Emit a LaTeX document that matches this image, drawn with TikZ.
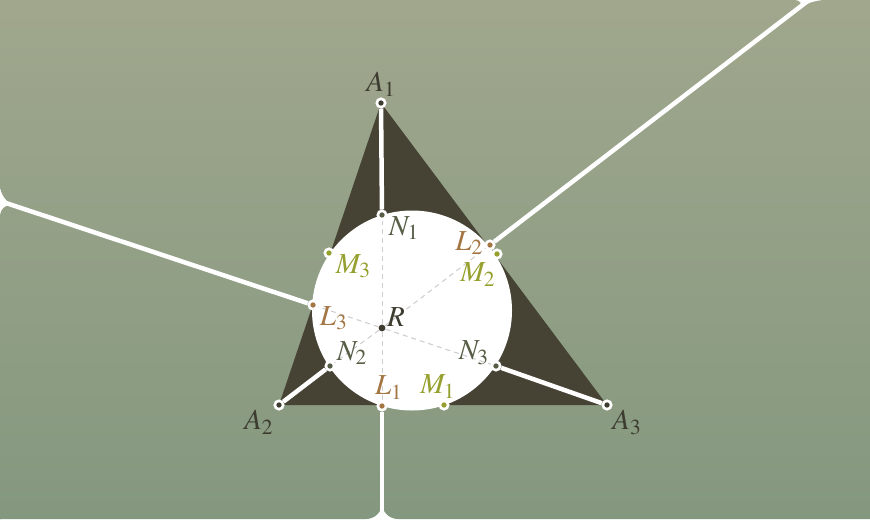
\documentclass[tikz,border=0pt]{standalone}
\usepackage{mathptmx}
\usetikzlibrary{backgrounds}

\definecolor{meadowtop}{RGB}{160,167,141}
\definecolor{meadowlow}{RGB}{132,152,127}
\definecolor{soil}{RGB}{71,67,52}
\definecolor{vtxcol}{RGB}{62,60,48}
\definecolor{ncol}{RGB}{86,94,70}
\definecolor{lcol}{RGB}{163,118,68}
\definecolor{mcol}{RGB}{150,160,46}
\definecolor{guidecol}{RGB}{205,205,205}

\begin{document}
\begin{tikzpicture}[x=0.5pt, y=-0.5pt,
        pt/.style={circle, draw=white, line width=1.3pt, minimum size=4.2pt, inner sep=0pt},
        vtx/.style={pt, fill=vtxcol},
        npt/.style={pt, fill=ncol},
        lpt/.style={pt, fill=lcol},
        mpt/.style={pt, fill=mcol},
        street/.style={draw=white, line width=2.25pt},
        guide/.style={draw=guidecol, line width=0.5pt, dash pattern=on 2.5pt off 2pt},
        disc/.style={circle, fill=white, minimum size=100pt, inner sep=0pt},
        every label/.style={font=\fontsize{14.5}{17}\selectfont, inner sep=0.5pt}
    ]
        \useasboundingbox (0,0) rectangle (870,519);

        \node[vtx, label={[text=vtxcol]90:$A_1$}]   (A1) at (381,103) {};
        \node[vtx, label={[text=vtxcol]225:$A_2$}]  (A2) at (279,405) {};
        \node[vtx, label={[text=vtxcol]-45:$A_3$}]  (A3) at (607,405) {};
        \node[circle, fill=vtxcol, minimum size=3.4pt, inner sep=0pt,
              label={[text=vtxcol, anchor=south west]0:$R$}] (R) at (382,328) {};

        \node[npt, label={[text=ncol, anchor=north west]0:$N_1$}]  (N1) at (382,215) {};
        \node[npt, label={[text=ncol, anchor=south west]0:$N_2$}]  (N2) at (330,366) {};
        \node[npt, label={[text=ncol, anchor=south east]180:$N_3$}] (N3) at (496,366) {};

        \node[lpt, label={[text=lcol, xshift=3.5pt]90:$L_1$}]            (L1) at (382,406) {};
        \node[lpt, label={[text=lcol, anchor=east, yshift=1pt]180:$L_2$}] (L2) at (490,245) {};
        \node[lpt, label={[text=lcol, anchor=north west]0:$L_3$}]        (L3) at (313,305) {};

        \node[mpt, label={[text=mcol, xshift=-3pt]90:$M_1$}]                      (M1) at (444,405) {};
        \node[mpt, label={[text=mcol, anchor=north east, yshift=-1pt]-90:$M_2$}]  (M2) at (497,254) {};
        \node[mpt, label={[text=mcol, anchor=north west]0:$M_3$}]                 (M3) at (329,253) {};

        \coordinate (B1) at (382,519);
        \coordinate (B2) at (809,0);
        \coordinate (B3) at (0,201);

        \begin{scope}[on background layer]
            \fill[white] (0,0) rectangle (870,519);
            \begin{scope}
                \clip[rounded corners=8pt]
                    (R.center) -- (B2) -- (-30,0) -- (0,-30) -- (B3) -- cycle
                    (R.center) -- (B3) -- (0,549) -- (-30,519) -- (B1) -- cycle
                    (R.center) -- (B1) -- (900,519) -- (900,0) -- (B2) -- cycle;
                \shade[top color=meadowtop, bottom color=meadowlow] (0,0) rectangle (870,519);
            \end{scope}
            \fill[soil] (A1.center) -- (A2.center) -- (A3.center) -- cycle;
            \node[disc] (plaza) at (412,310.5) {};
            \draw[street] (A1) -- (N1);
            \draw[street] (A2) -- (N2);
            \draw[street] (A3) -- (N3);
            \draw[street] (L1) -- (B1);
            \draw[street] (L2) -- (B2);
            \draw[street] (L3) -- (B3);
            \foreach \p in {N1,N2,N3,L1,L2,L3}
                \draw[guide] (R) -- (\p);
        \end{scope}
    \end{tikzpicture}
\end{document}
